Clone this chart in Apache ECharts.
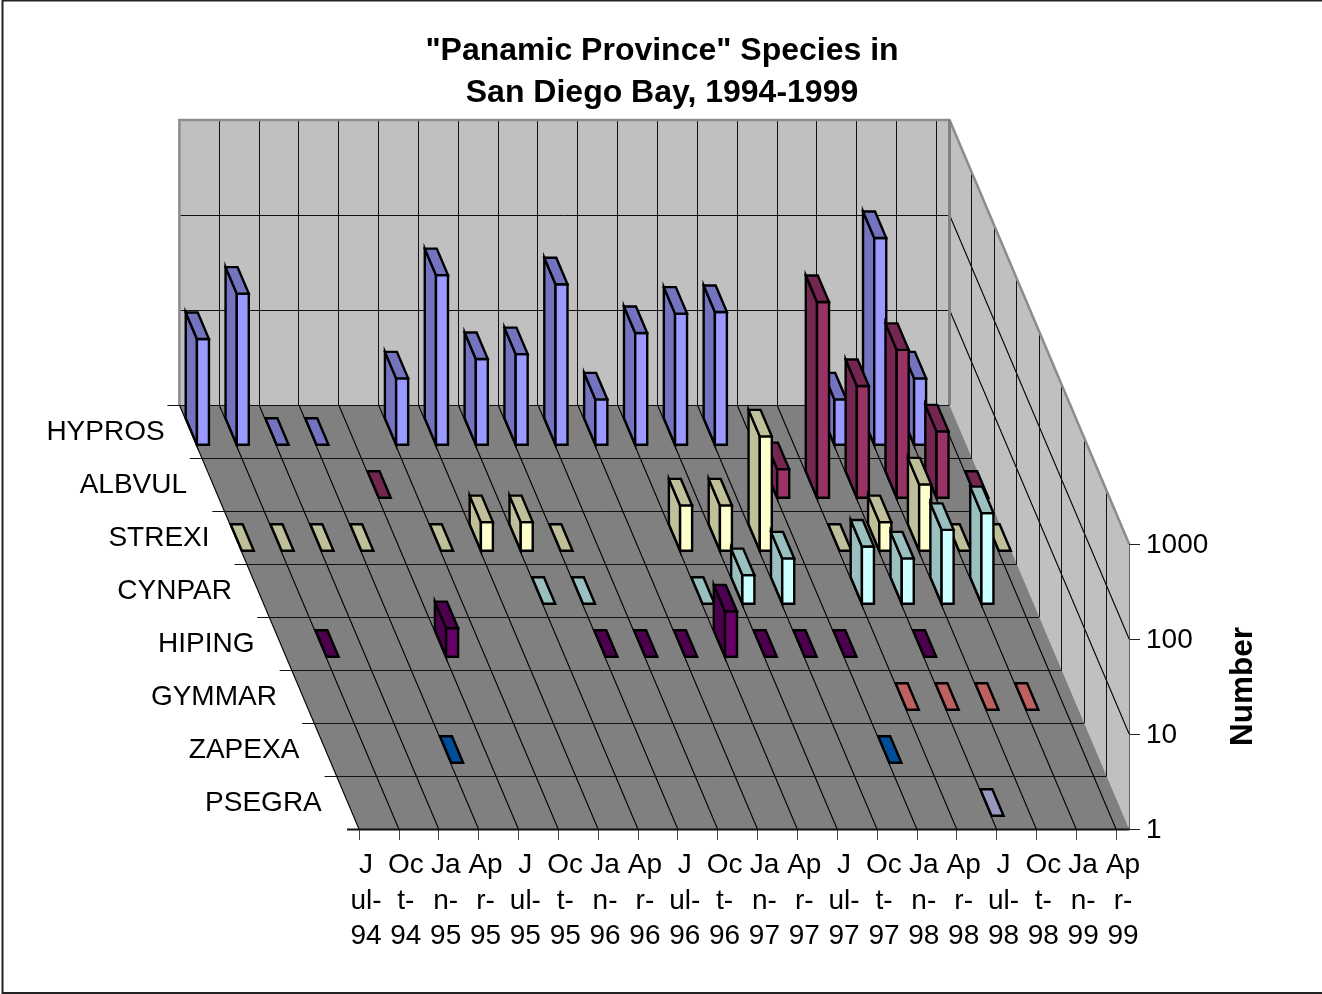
<!DOCTYPE html>
<html><head><meta charset="utf-8">
<style>html,body{margin:0;padding:0;background:#fff}#c{width:1322px;height:994px}</style>
<script src="https://cdn.jsdelivr.net/npm/echarts@6/dist/echarts.min.js"></script>
</head><body><div id="c"></div>
<script>
var categories=["J\nul-\n94","Oc\nt-\n94","Ja\nn-\n95","Ap\nr-\n95","J\nul-\n95","Oc\nt-\n95","Ja\nn-\n96","Ap\nr-\n96","J\nul-\n96","Oc\nt-\n96","Ja\nn-\n97","Ap\nr-\n97","J\nul-\n97","Oc\nt-\n97","Ja\nn-\n98","Ap\nr-\n98","J\nul-\n98","Oc\nt-\n98","Ja\nn-\n99","Ap\nr-\n99"];
var speciesNames=["HYPROS","ALBVUL","STREXI","CYNPAR","HIPING","GYMMAR","ZAPEXA","PSEGRA"];
var _=null;
var HYPROS=[13,39,1,1,_,5,61,8,9,49,3,15,24,25,_,_,3,150,5,_];
var ALBVUL=[_,_,_,_,1,_,_,_,_,_,_,_,_,_,2,115,15,36,5,1];
var STREXI=[1,1,1,1,_,1,2,2,1,_,_,3,3,16,_,1,2,5,1,1];
var CYNPAR=[_,_,_,_,_,_,_,1,1,_,_,1,2,3,_,4,3,6,9,_];
var HIPING=[_,1,_,_,2,_,_,_,1,1,1,3,1,1,1,_,1,_,_,_];
var GYMMAR=[_,_,_,_,_,_,_,_,_,_,_,_,_,_,_,1,1,1,1,_];
var ZAPEXA=[_,_,_,1,_,_,_,_,_,_,_,_,_,_,1,_,_,_,_,_];
var PSEGRA=[_,_,_,_,_,_,_,_,_,_,_,_,_,_,_,_,1,_,_,_];
var speciesValues=[HYPROS,ALBVUL,STREXI,CYNPAR,HIPING,GYMMAR,ZAPEXA,PSEGRA];
var frontColors=["#9999ff","#993366","#ffffcc","#ccffff","#660066","#ff8080","#0066cc","#ccccff"];
var shadeColors=["#7373bf","#732650","#bfbf99","#99bfbf","#4d004d","#bf6060","#004d99","#9999bf"];

var FONT='"Liberation Sans",Arial,sans-serif';
var DX=22.45, DY=53, ROWS=8, END_COL=19.33;
function proj(api,col,val,depth){
  var p0=api.coord([0,val]), p1=api.coord([1,val]);
  return [p0[0]+(p1[0]-p0[0])*col-DX*depth, p0[1]-DY*depth];
}
function ln(a,b,color,w){
  var x1=a[0],y1=a[1],x2=b[0],y2=b[1];
  if(Math.abs(y1-y2)<0.01){y1=y2=Math.round(y1)+0.5;w=w||1;}
  if(Math.abs(x1-x2)<0.01){x1=x2=Math.floor(x1)+0.5;w=w||1;}
  return {type:'line',shape:{x1:x1,y1:y1,x2:x2,y2:y2},style:{stroke:color,lineWidth:w}};
}
function poly(pts,fill,stroke,w){return {type:'polygon',shape:{points:pts},style:{fill:fill,stroke:stroke,lineWidth:w,lineJoin:'miter'}};}
function pline(pts,color,w){return {type:'polyline',shape:{points:pts},style:{fill:'none',stroke:color,lineWidth:w,lineJoin:'miter'}};}

function renderFrame(params,api){
  var c=[];
  var P=function(col,val,d){return proj(api,col,val,d);};
  c.push(poly([P(0,1,ROWS),P(0,1000,ROWS),P(END_COL,1000,ROWS),P(END_COL,1,ROWS)],'#c0c0c0','none',0));
  c.push(poly([P(END_COL,1,ROWS),P(END_COL,1000,ROWS),P(END_COL,1000,0),P(END_COL,1,0)],'#c0c0c0','none',0));
  c.push(poly([P(0,1,ROWS),P(END_COL,1,ROWS),P(END_COL,1,0),P(0,1,0)],'#808080','none',0));
  [10,100].forEach(function(v){
    c.push(ln(P(0,v,ROWS),P(END_COL,v,ROWS),'#111',1));
    c.push(ln(P(END_COL,v,ROWS),P(END_COL,v,0),'#000',1.1));
  });
  categories.forEach(function(t,i){
    c.push(ln(P(i,1,ROWS),P(i,1000,ROWS),'#111',1));
    c.push(ln(P(i,1,ROWS),P(i,1,0),'#000',1.1));
  });
  for(var d=0;d<=ROWS;d++){
    var l=P(0,1,d); l[0]-=12;
    c.push(ln(l,P(END_COL,1,d),'#111',d===0?2:1));
    if(d>0&&d<ROWS) c.push(ln(P(END_COL,1,d),P(END_COL,1000,d),'#111',1));
  }
  c.push(pline([P(0,1,ROWS),P(0,1000,ROWS),P(END_COL,1000,ROWS),P(END_COL,1000,0)],'#8c8c8c',2.5));
  c.push(ln(P(END_COL,1,ROWS),P(END_COL,1000,ROWS),'#808080',3));
  speciesNames.forEach(function(n,r){
    var p=P(0,1,ROWS-r-0.5);
    c.push({type:'text',style:{text:n,x:p[0]-26,y:p[1]+0.5,textAlign:'right',textVerticalAlign:'middle',font:'28px '+FONT,fill:'#000'}});
  });
  return {type:'group',children:c};
}

function barRenderer(row){
  return function(params,api){
    var col=api.value(0), v=api.value(1);
    if(v==null||isNaN(v)) return;
    var df=ROWS-1-row+0.25, db=df+0.5, off=0.7, wid=12;
    var a=function(val,d,x){var p=proj(api,col,val,d);return [p[0]+x,p[1]];};
    var fl=a(1,df,off), fr=a(1,df,off+wid), tl=a(v,df,off), tr=a(v,df,off+wid);
    var bl=a(1,db,off), btl=a(v,db,off), btr=a(v,db,off+wid);
    var W=2.4, k=[];
    if(v>1){
      k.push(poly([bl,btl,tl,fl],shadeColors[row],'#000',W));
      k.push(poly([tl,tr,fr,fl],frontColors[row],'#000',W));
    }
    k.push(poly([btl,btr,tr,tl],shadeColors[row],'#000',W));
    return {type:'group',children:k};
  };
}

var series=[{type:'custom',name:'frame',data:[[0,1]],encode:{x:0,y:1},renderItem:renderFrame,silent:true,z:1,clip:false}];
speciesNames.forEach(function(name,row){
  var d=[];
  speciesValues[row].forEach(function(v,i){ if(v!==null) d.push([i,v]); });
  series.push({type:'custom',name:name,data:d,encode:{x:0,y:1},renderItem:barRenderer(row),z:3+row,clip:false});
});

var chart=echarts.init(document.getElementById('c'));
chart.setOption({
  animation:false,
  backgroundColor:'#fff',
  title:{text:'"Panamic Province" Species in\nSan Diego Bay, 1994-1999',left:657,top:25,textAlign:'center',
    textStyle:{fontFamily:FONT,fontWeight:'bold',fontSize:32,lineHeight:42,color:'#000'}},
  graphic:[{type:'rect',shape:{x:2.5,y:0.5,width:1340,height:992.5},style:{fill:'none',stroke:'#222',lineWidth:2},silent:true,z:-1}],
  grid:{left:359,right:206,top:544,bottom:165,containLabel:false},
  xAxis:{type:'category',data:categories,boundaryGap:false,
    axisLine:{show:false},
    axisTick:{show:true,length:11,alignWithLabel:true,lineStyle:{color:'#444',width:1}},
    axisLabel:{interval:0,hideOverlap:false,margin:19,fontFamily:FONT,fontSize:28,lineHeight:35.5,color:'#000',padding:[0,0,0,14],align:'center'},
    splitLine:{show:false}},
  yAxis:{type:'log',logBase:10,min:1,max:1000,position:'right',offset:13,
    name:'Number',nameLocation:'middle',nameRotate:90,nameGap:98,
    nameTextStyle:{fontFamily:FONT,fontWeight:'bold',fontSize:31.5,color:'#000'},
    axisLine:{show:true,lineStyle:{color:'#555',width:2}},
    axisTick:{show:true,length:11,lineStyle:{color:'#222',width:1}},
    minorTick:{show:false},
    axisLabel:{margin:17,fontFamily:FONT,fontSize:28,color:'#000',verticalAlign:'top',lineHeight:3,formatter:function(v){return String(Math.round(v));}},
    splitLine:{show:false}},
  series:series
});
</script></body></html>
